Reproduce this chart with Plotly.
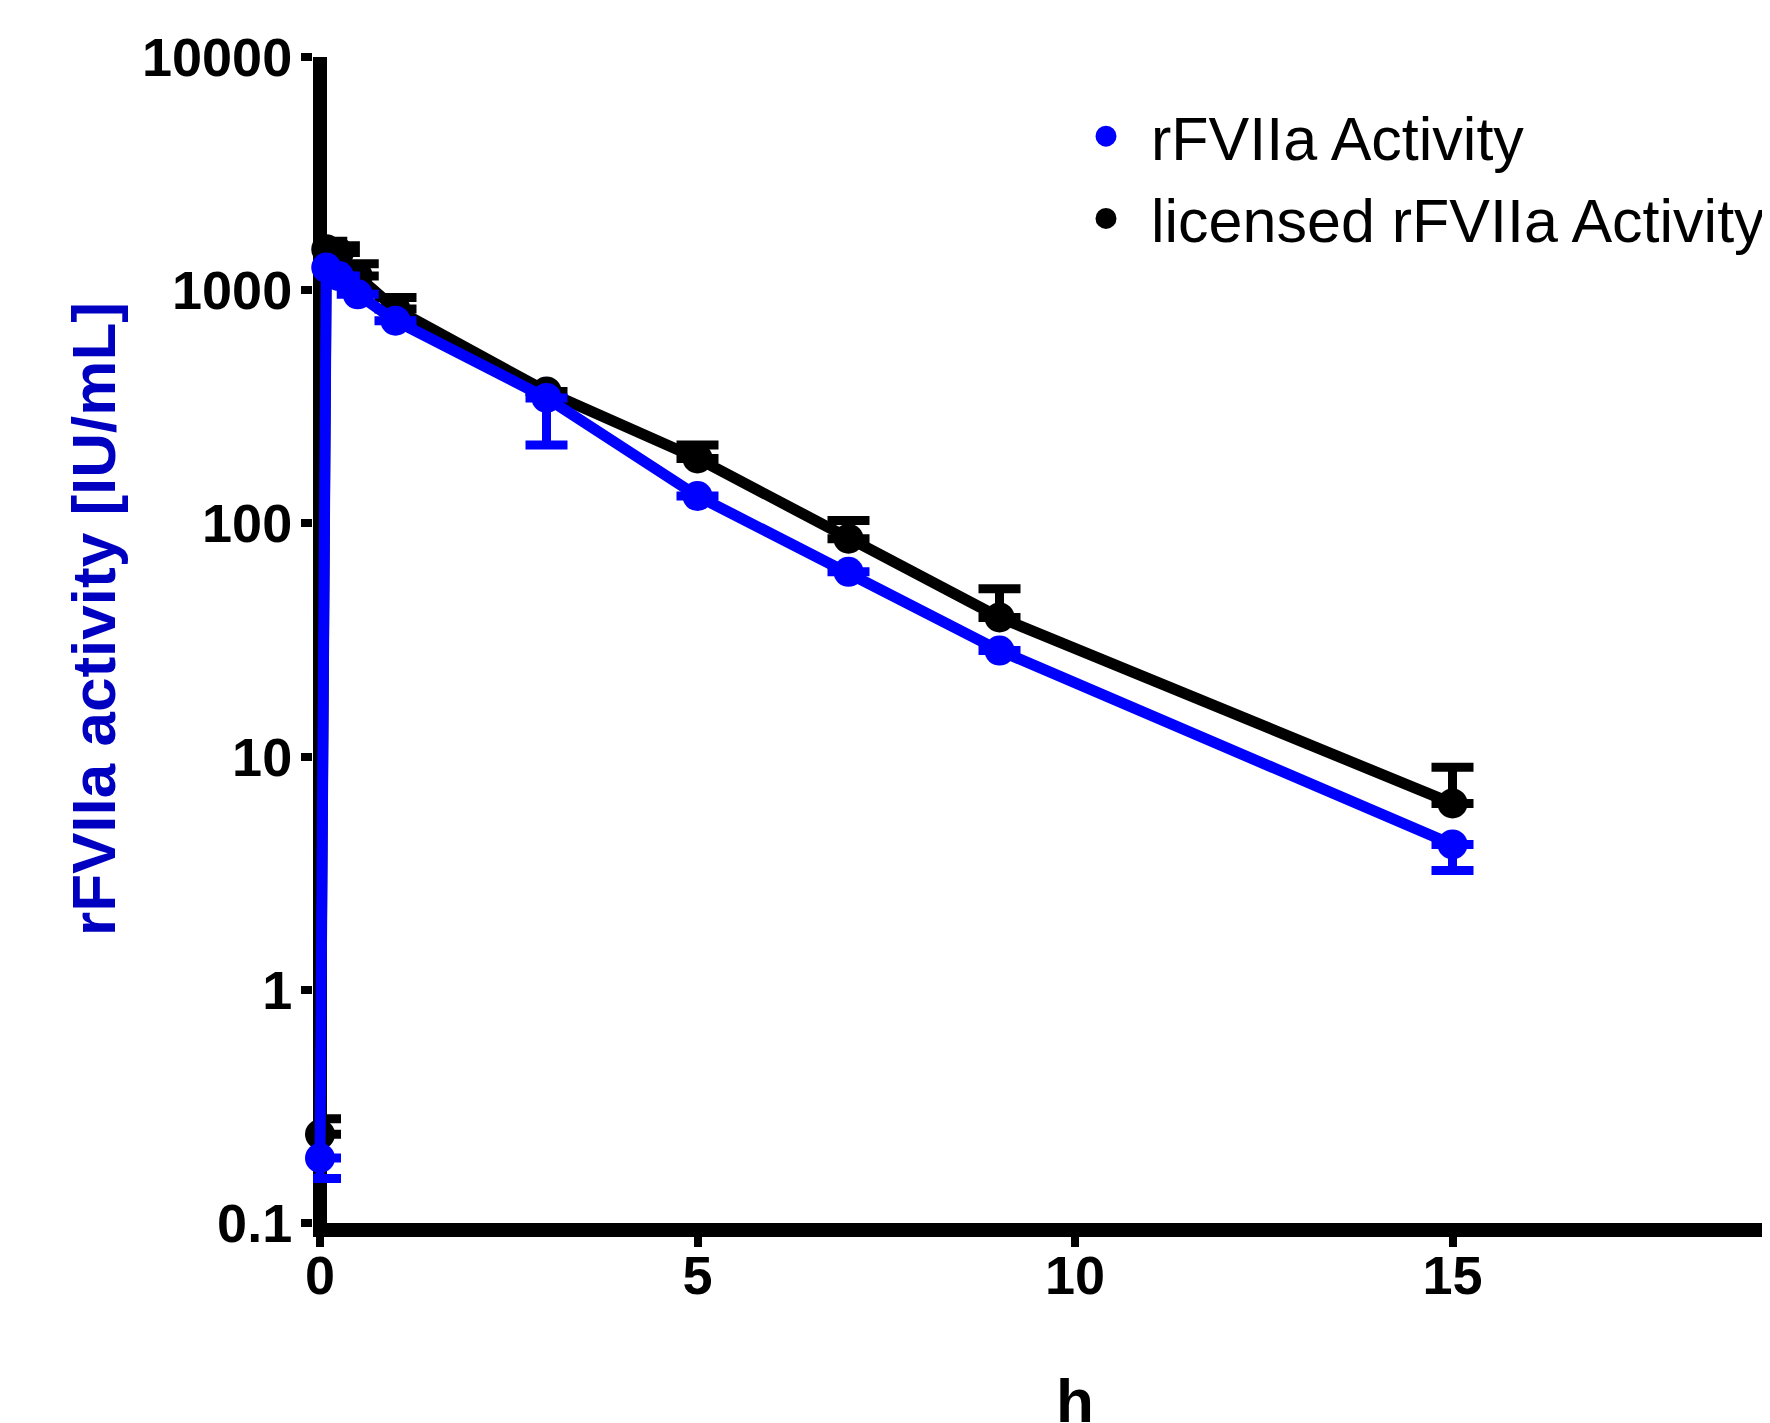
import plotly.graph_objects as go

# ---- data ----
time_h = [0, 0.083, 0.25, 0.5, 1, 3, 5, 7, 9, 15]

rfviia = [0.19, 1250, 1150, 960, 740, 345, 131, 62, 28.5, 4.2]
rfviia_err_minus = [0.035, 0, 0, 0, 0, 128, 0, 0, 0, 0.95]

licensed = [0.24, 1500, 1450, 1150, 830, 368, 190, 86, 39.5, 6.3]
licensed_err_plus = [0.04, 120, 100, 150, 100, 0, 27, 17, 13, 2.7]

y_tickvals = [0.1, 1, 10, 100, 1000, 10000]
y_ticktext = ["0.1", "1", "10", "100", "1000", "10000"]
x_tickvals = [0, 5, 10, 15, 20]
x_ticktext = ["0", "5", "10", "15", "20"]

series_names = ["rFVIIa Activity", "licensed rFVIIa Activity"]
y_title = "rFVIIa activity [IU/mL]"
x_title = "h"

BLUE = "#0000FF"
BLACK = "#000000"
TITLE_BLUE = "#0000C0"
FONT = "Liberation Sans, Arial, sans-serif"

W, H = 1770, 1423
L, R, T, B = 305, 0, 49, 208
PW, PH = W - L - R, H - T - B
PX_PER_H = 75.5
AXW = 14  # axis line width
x_lo = -(AXW / 2) / PX_PER_H

fig = go.Figure()

# licensed (black) first so blue is drawn on top
fig.add_trace(go.Scatter(
    x=time_h, y=licensed, mode="lines+markers",
    line=dict(color=BLACK, width=11),
    marker=dict(color=BLACK, size=30, symbol="circle"),
    error_y=dict(type="data", symmetric=False, array=licensed_err_plus,
                 arrayminus=[0] * len(licensed), color=BLACK, thickness=9, width=21),
    cliponaxis=False, showlegend=False,
))
fig.add_trace(go.Scatter(
    x=time_h, y=rfviia, mode="lines+markers",
    line=dict(color=BLUE, width=11),
    marker=dict(color=BLUE, size=30, symbol="circle"),
    error_y=dict(type="data", symmetric=False, array=[0] * len(rfviia),
                 arrayminus=rfviia_err_minus, color=BLUE, thickness=9, width=21),
    cliponaxis=False, showlegend=False,
))

# legend entries (marker only, like the reference)
fig.add_trace(go.Scatter(x=[None], y=[None], mode="markers", name=series_names[0],
                         marker=dict(color=BLUE, size=30, line=dict(color=BLUE, width=6))))
fig.add_trace(go.Scatter(x=[None], y=[None], mode="markers", name=series_names[1],
                         marker=dict(color=BLACK, size=30, line=dict(color=BLACK, width=6))))

fig.update_layout(
    width=W, height=H,
    paper_bgcolor="white", plot_bgcolor="white",
    margin=dict(l=L, r=R, t=T, b=B, autoexpand=False),
    font=dict(family=FONT, color="black"),
    showlegend=True,
    legend=dict(x=(1053 - L) / PW, y=1 - (82 - T) / PH, xanchor="left", yanchor="top",
                font=dict(size=61, family=FONT, color="black"),
                bgcolor="rgba(0,0,0,0)", borderwidth=0, itemwidth=80,
                tracegroupgap=0),
)

# x axis: bottom line + zero line acting as the vertical axis (centred on x = 0)
fig.update_xaxes(
    range=[x_lo, x_lo + PW / PX_PER_H], tickvals=x_tickvals, ticktext=x_ticktext,
    showline=True, linecolor="black", linewidth=AXW, layer="below traces",
    zeroline=True, zerolinecolor="black", zerolinewidth=AXW,
    ticks="outside", ticklen=10, tickwidth=8, tickcolor="black",
    ticklabelstandoff=-18,
    tickfont=dict(size=54, family=FONT, color="black", weight="bold"),
    showgrid=False,
)
fig.update_yaxes(
    type="log", range=[-1, 4], tickvals=y_tickvals, ticktext=y_ticktext,
    showline=False, layer="below traces",
    ticks="outside", ticklen=11, tickwidth=8, tickcolor="black",
    ticklabelstandoff=-2,
    tickfont=dict(size=54, family=FONT, color="black", weight="bold"),
    showgrid=False, zeroline=False,
)

# y-axis title (placed explicitly)
fig.add_annotation(
    text=y_title, textangle=-90, xref="paper", yref="paper",
    x=-(L - 85) / PW, y=1 - (611 - T) / PH,
    xanchor="center", yanchor="middle", showarrow=False,
    font=dict(size=62, family=FONT, color=TITLE_BLUE, weight="bold"),
)

# x-axis title
fig.add_annotation(
    text=x_title, x=10, xref="x", y=0, yref="paper", yanchor="top",
    yshift=-141, showarrow=False,
    font=dict(size=62, family=FONT, color="black", weight="bold"),
)

fig.write_html("out.html")
